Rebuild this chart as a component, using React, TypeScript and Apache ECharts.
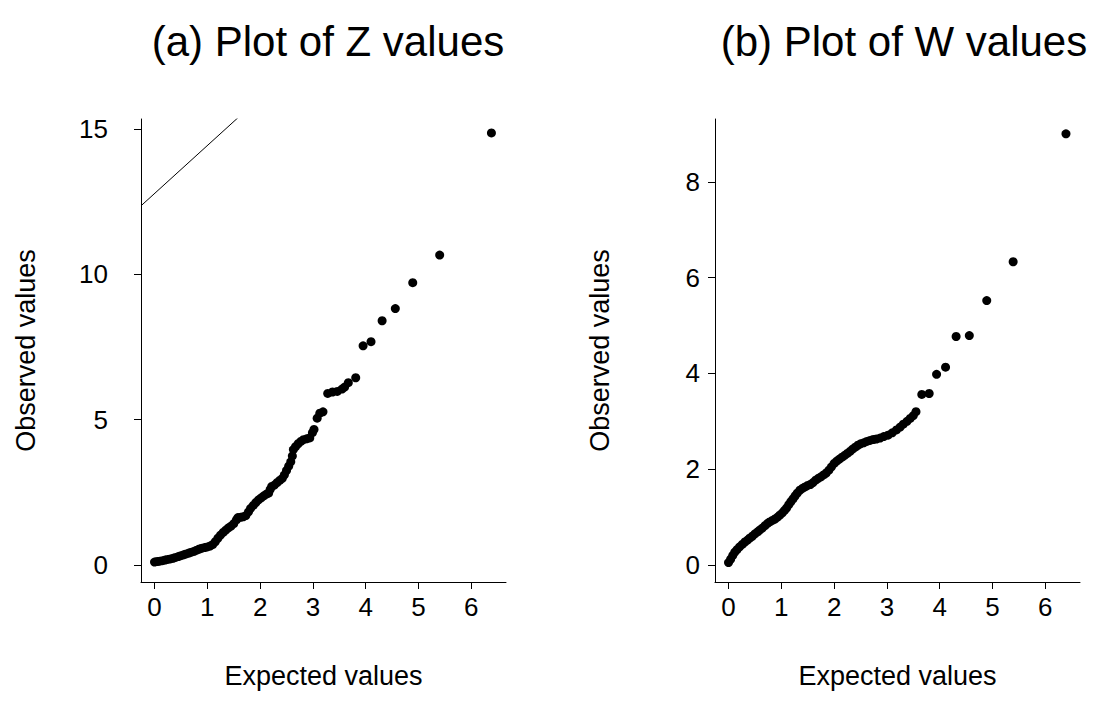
import React, { useEffect, useRef } from "react";
import * as echarts from "echarts";

// Panel (a): Z values — expected vs observed
const zExpected = [
  0.00, 0.05, 0.10, 0.15, 0.20, 0.25, 0.30, 0.35, 0.40, 0.45, 0.50, 0.55, 0.60, 0.65, 0.70,
  0.75, 0.80, 0.85, 0.90, 0.95, 1.00, 1.05, 1.10, 1.15, 1.20, 1.25, 1.30, 1.35, 1.40, 1.45,
  1.50, 1.55, 1.58, 1.63, 1.68, 1.73, 1.78, 1.82, 1.87, 1.92, 1.97, 2.02, 2.07, 2.12, 2.16,
  2.19, 2.22, 2.27, 2.32, 2.37, 2.42, 2.46, 2.50, 2.54, 2.58, 2.61, 2.63, 2.67, 2.72, 2.77,
  2.82, 2.88, 2.94, 2.99, 3.02, 3.08, 3.13, 3.19, 3.28, 3.37, 3.46, 3.55, 3.60, 3.67, 3.81,
  3.95, 4.10, 4.31, 4.56, 4.89, 5.40, 6.38,
];
const zObserved = [
  0.10, 0.12, 0.13, 0.15, 0.17, 0.19, 0.21, 0.23, 0.26, 0.29, 0.32, 0.35, 0.38, 0.41, 0.44,
  0.47, 0.51, 0.55, 0.58, 0.60, 0.62, 0.65, 0.70, 0.80, 0.92, 1.03, 1.12, 1.20, 1.28, 1.34,
  1.42, 1.55, 1.63, 1.64, 1.66, 1.70, 1.83, 1.95, 2.05, 2.15, 2.24, 2.31, 2.38, 2.44, 2.47,
  2.60, 2.70, 2.75, 2.83, 2.91, 2.98, 3.10, 3.25, 3.40, 3.55, 3.75, 3.97, 4.07, 4.17, 4.25,
  4.31, 4.34, 4.37, 4.55, 4.66, 5.05, 5.22, 5.27, 5.90, 5.95, 5.97, 6.05, 6.12, 6.27, 6.44,
  7.54, 7.68, 8.40, 8.82, 9.71, 10.66, 14.86,
];
// reference line drawn in panel (a), endpoints at the plot edges
const zLineX = [-0.246, 1.578];
const zLineY = [12.37, 15.38];

// Panel (b): W values
const wExpected = [
  0.00, 0.04, 0.08, 0.12, 0.16, 0.21, 0.26, 0.31, 0.36, 0.40, 0.45, 0.50, 0.55, 0.59, 0.64,
  0.69, 0.74, 0.78, 0.83, 0.88, 0.93, 0.97, 1.02, 1.06, 1.10, 1.14, 1.18, 1.22, 1.26, 1.30,
  1.35, 1.40, 1.45, 1.50, 1.55, 1.60, 1.65, 1.70, 1.75, 1.80, 1.85, 1.90, 1.95, 2.00, 2.05,
  2.10, 2.15, 2.20, 2.25, 2.30, 2.35, 2.40, 2.45, 2.50, 2.56, 2.62, 2.68, 2.74, 2.80, 2.87,
  2.94, 3.02, 3.10, 3.18, 3.25, 3.31, 3.38, 3.44, 3.50, 3.55, 3.66, 3.80, 3.94, 4.11, 4.31,
  4.56, 4.89, 5.39, 6.39,
];
const wObserved = [
  0.05, 0.12, 0.20, 0.27, 0.32, 0.38, 0.43, 0.48, 0.52, 0.56, 0.60, 0.65, 0.69, 0.73, 0.77,
  0.82, 0.87, 0.90, 0.93, 0.96, 1.00, 1.04, 1.09, 1.14, 1.19, 1.26, 1.32, 1.38, 1.44, 1.50,
  1.56, 1.60, 1.63, 1.66, 1.68, 1.72, 1.77, 1.81, 1.84, 1.88, 1.92, 1.98, 2.05, 2.12, 2.17,
  2.21, 2.25, 2.29, 2.33, 2.37, 2.42, 2.46, 2.50, 2.53, 2.55, 2.58, 2.60, 2.62, 2.63, 2.65,
  2.68, 2.71, 2.76, 2.82, 2.88, 2.94, 3.00, 3.06, 3.12, 3.20, 3.56, 3.58, 3.98, 4.13, 4.77,
  4.79, 5.52, 6.33, 9.00,
];

const xTicks = [0, 1, 2, 3, 4, 5, 6];
const zTicks = [0, 5, 10, 15];
const wTicks = [0, 2, 4, 6, 8];

const titles = ["(a) Plot of Z values", "(b) Plot of W values"];
const xName = "Expected values";
const yName = "Observed values";

const FONT = "'Liberation Sans', Arial, sans-serif";
const TICK_SIZE = 26;
const NAME_SIZE = 27;

function makeAxisX(gridIndex: number) {
  return {
    type: "value",
    gridIndex,
    min: -0.256,
    max: 6.656,
    name: xName,
    nameLocation: "middle",
    nameGap: 80,
    nameTextStyle: { fontSize: NAME_SIZE, color: "#000", fontFamily: FONT },
    axisLine: { show: true, onZero: false, lineStyle: { color: "#000", width: 1 } },
    axisTick: { show: true, length: 7, customValues: xTicks, lineStyle: { color: "#000", width: 1 } },
    axisLabel: { customValues: xTicks, fontSize: TICK_SIZE, color: "#000", fontFamily: FONT, margin: 12 },
    splitLine: { show: false },
  };
}

function makeAxisY(
  gridIndex: number,
  min: number,
  max: number,
  ticks: number[],
  margin: number,
  nameGap: number
) {
  return {
    type: "value",
    gridIndex,
    min,
    max,
    name: yName,
    nameLocation: "middle",
    nameGap,
    nameRotate: 90,
    nameTextStyle: { fontSize: NAME_SIZE, color: "#000", fontFamily: FONT },
    axisLine: { show: true, onZero: false, lineStyle: { color: "#000", width: 1 } },
    axisTick: { show: true, length: 7, customValues: ticks, lineStyle: { color: "#000", width: 1 } },
    axisLabel: { customValues: ticks, fontSize: TICK_SIZE, color: "#000", fontFamily: FONT, margin },
    splitLine: { show: false },
  };
}

export default function App() {
  const ref = useRef<HTMLDivElement>(null);
  useEffect(() => {
    if (!ref.current) return;
    const chart = echarts.init(ref.current, null, { renderer: "svg" });
    const zData = zExpected.map((x, i) => [x, zObserved[i]]);
    const wData = wExpected.map((x, i) => [x, wObserved[i]]);
    const lineData = zLineX.map((x, i) => [x, zLineY[i]]);
    chart.setOption({
      animation: false,
      backgroundColor: "#fff",
      grid: [
        { left: 141, top: 119, width: 365, height: 463 },
        { left: 715, top: 119, width: 365, height: 463 },
      ],
      xAxis: [makeAxisX(0), makeAxisX(1)],
      yAxis: [
        makeAxisY(0, -0.585, 15.34, zTicks, 33, 102),
        makeAxisY(1, -0.355, 9.31, wTicks, 15, 102),
      ],
      graphic: [
        {
          type: "text",
          x: 328,
          y: 41,
          style: {
            text: titles[0],
            font: `42px ${FONT}`,
            fill: "#000",
            align: "center",
            verticalAlign: "middle",
          },
        },
        {
          type: "text",
          x: 904,
          y: 41,
          style: {
            text: titles[1],
            font: `42px ${FONT}`,
            fill: "#000",
            align: "center",
            verticalAlign: "middle",
          },
        },
      ],
      series: [
        {
          type: "scatter",
          xAxisIndex: 0,
          yAxisIndex: 0,
          data: zData,
          symbol: "circle",
          symbolSize: 9,
          itemStyle: { color: "#000", opacity: 1 },
        },
        {
          type: "line",
          xAxisIndex: 0,
          yAxisIndex: 0,
          data: lineData,
          showSymbol: false,
          symbol: "none",
          clip: true,
          lineStyle: { color: "#000", width: 1 },
        },
        {
          type: "scatter",
          xAxisIndex: 1,
          yAxisIndex: 1,
          data: wData,
          symbol: "circle",
          symbolSize: 9,
          itemStyle: { color: "#000", opacity: 1 },
        },
      ],
    });
    return () => chart.dispose();
  }, []);
  return (
    <div
      ref={ref}
      style={{ position: "fixed", left: 0, top: 0, width: 1095, height: 721, background: "#fff" }}
    />
  );
}
